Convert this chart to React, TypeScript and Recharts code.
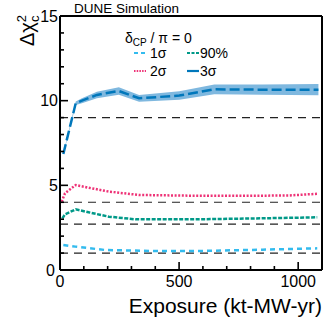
import React from "react";
import {
  ComposedChart,
  Line,
  Area,
  XAxis,
  YAxis,
  ReferenceLine,
} from "recharts";

// Exposure (kt-MW-yr) and Δχ² values, per curve
const sig1X = [14, 64, 190, 402, 579, 850, 1080];
const sig1Y = [1.48, 1.38, 1.18, 1.12, 1.12, 1.2, 1.28];

const sig2X = [7, 21, 66, 120, 205, 332, 544, 750, 960, 1080];
const sig2Y = [4.03, 4.53, 5.02, 4.86, 4.63, 4.43, 4.39, 4.38, 4.4, 4.5];

const cl90X = [10, 21, 66, 120, 205, 318, 542, 750, 960, 1080];
const cl90Y = [3.05, 3.29, 3.58, 3.41, 3.15, 2.99, 2.99, 3.03, 3.08, 3.11];

const sig3X = [14, 66, 92, 155, 247, 332, 501, 648, 850, 1085];
const sig3Y = [6.85, 9.85, 10.0, 10.34, 10.57, 10.14, 10.3, 10.67, 10.65, 10.65];
const sig3Lo = [6.8, 9.75, 9.85, 10.15, 10.35, 9.94, 10.05, 10.38, 10.35, 10.32];
const sig3Hi = [6.9, 9.95, 10.15, 10.53, 10.79, 10.34, 10.55, 10.96, 10.95, 10.98];

// Horizontal thresholds
const thresholds = [1, 2.71, 4, 9];

const xTicks = [0, 100, 200, 300, 400, 500, 600, 700, 800, 900, 1000, 1100];
const yTicks = [0, 1, 2, 3, 4, 5, 6, 7, 8, 9, 10, 11, 12, 13, 14, 15];

const C1 = "#33bbee";
const C2 = "#ee3377";
const C90 = "#009988";
const C3 = "#0077bb";
const BAND = "#7fb8df";
const FONT = "'Liberation Sans', Arial, sans-serif";

const toPts = (xs: number[], ys: number[]) => xs.map((x, i) => ({ x, y: ys[i] }));
const band = sig3X.map((x, i) => ({ x, band: [sig3Lo[i], sig3Hi[i]] }));

const BottomTick = (p: any) => {
  const { x, y, payload } = p;
  const major = payload.value % 500 === 0;
  return (
    <g>
      <line x1={x} x2={x} y1={y} y2={y - (major ? 8 : 4)} stroke="#000" strokeWidth={1.6} />
      {major && payload.value <= 1000 && (
        <text x={x} y={y + 17} textAnchor="middle" fontSize={16} fontFamily={FONT} fill="#000">
          {payload.value}
        </text>
      )}
    </g>
  );
};

const TopTick = (p: any) => {
  const { x, y, payload } = p;
  const major = payload.value % 500 === 0;
  return <line x1={x} x2={x} y1={y} y2={y + (major ? 8 : 4)} stroke="#000" strokeWidth={1.6} />;
};

const LeftTick = (p: any) => {
  const { x, y, payload } = p;
  const major = payload.value % 5 === 0;
  return (
    <g>
      <line x1={x} x2={x + (major ? 8 : 4)} y1={y} y2={y} stroke="#000" strokeWidth={1.6} />
      {major && (
        <text
          x={payload.value === 0 ? x - 5 : x - 2}
          y={y}
          dy="0.36em"
          textAnchor="end"
          fontSize={16}
          fontFamily={FONT}
          fill="#000"
        >
          {payload.value}
        </text>
      )}
    </g>
  );
};

const RightTick = (p: any) => {
  const { x, y, payload } = p;
  const major = payload.value % 5 === 0;
  return <line x1={x} x2={x - (major ? 8 : 4)} y1={y} y2={y} stroke="#000" strokeWidth={1.6} />;
};

const axisLine = { stroke: "#000", strokeWidth: 2 };

export default function App() {
  return (
    <div style={{ position: "fixed", left: 0, top: 0, width: 332, height: 322, background: "#fff" }}>
      <ComposedChart width={332} height={322} margin={{ top: 15, right: 9, bottom: 51, left: 59 }}>
        <XAxis
          xAxisId="b"
          dataKey="x"
          type="number"
          domain={[0, 1100]}
          ticks={xTicks}
          interval={0}
          height={1}
          tickSize={0}
          tickMargin={0}
          tickLine={false}
          axisLine={axisLine}
          tick={BottomTick}
          allowDataOverflow
        />
        <XAxis
          xAxisId="t"
          orientation="top"
          dataKey="x"
          type="number"
          domain={[0, 1100]}
          ticks={xTicks}
          interval={0}
          height={1}
          tickSize={0}
          tickMargin={0}
          tickLine={false}
          axisLine={axisLine}
          tick={TopTick}
        />
        <YAxis
          yAxisId="l"
          type="number"
          domain={[0, 15]}
          ticks={yTicks}
          interval={0}
          width={1}
          tickSize={0}
          tickMargin={0}
          tickLine={false}
          axisLine={axisLine}
          tick={LeftTick}
          allowDataOverflow
        />
        <YAxis
          yAxisId="r"
          orientation="right"
          type="number"
          domain={[0, 15]}
          ticks={yTicks}
          interval={0}
          width={1}
          tickSize={0}
          tickMargin={0}
          tickLine={false}
          axisLine={axisLine}
          tick={RightTick}
        />
        {thresholds.map((t) => (
          <ReferenceLine
            key={t}
            xAxisId="b"
            yAxisId="l"
            y={t}
            stroke="#222"
            strokeWidth={1.2}
            strokeDasharray="8 6"
          />
        ))}
        <Area
          xAxisId="b"
          yAxisId="l"
          data={band}
          dataKey="band"
          type="linear"
          fill={BAND}
          fillOpacity={1}
          stroke="none"
          isAnimationActive={false}
        />
        <Line
          xAxisId="b"
          yAxisId="l"
          data={toPts(sig1X, sig1Y)}
          dataKey="y"
          type="linear"
          stroke={C1}
          strokeWidth={2.5}
          strokeDasharray="5 4"
          dot={false}
          isAnimationActive={false}
        />
        <Line
          xAxisId="b"
          yAxisId="l"
          data={toPts(sig2X, sig2Y)}
          dataKey="y"
          type="linear"
          stroke={C2}
          strokeWidth={2.5}
          strokeDasharray="2 1.6"
          dot={false}
          isAnimationActive={false}
        />
        <Line
          xAxisId="b"
          yAxisId="l"
          data={toPts(cl90X, cl90Y)}
          dataKey="y"
          type="linear"
          stroke={C90}
          strokeWidth={2.5}
          strokeDasharray="4 1.5"
          dot={false}
          isAnimationActive={false}
        />
        <Line
          xAxisId="b"
          yAxisId="l"
          data={toPts(sig3X, sig3Y)}
          dataKey="y"
          type="linear"
          stroke={C3}
          strokeWidth={2.5}
          strokeDasharray="10 4"
          dot={false}
          isAnimationActive={false}
        />
      </ComposedChart>
      <svg
        width={332}
        height={322}
        style={{ position: "absolute", left: 0, top: 0, pointerEvents: "none" }}
        fontFamily={FONT}
      >
        <text x={74} y={12.5} fontSize={13.5} fill="#000">
          DUNE Simulation
        </text>
        <text transform="translate(34,15) rotate(-90)" textAnchor="end" fontSize={20} fill="#000">
          Δχ
          <tspan fontSize={13} dy={-8}>2</tspan>
          <tspan fontSize={13} dx={-7} dy={13}>c</tspan>
        </text>
        <text x={322} y={313} textAnchor="end" fontSize={21} fill="#000">
          Exposure (kt-MW-yr)
        </text>
        <text x={125} y={43} fontSize={14} fill="#000">
          δ<tspan fontSize={10} dy={3}>CP</tspan>
          <tspan dy={-3}> / π = 0</tspan>
        </text>
        <line x1={134} x2={146} y1={53} y2={53} stroke={C1} strokeWidth={2.2} strokeDasharray="4 3" />
        <text x={150} y={58} fontSize={14} fill="#000">1σ</text>
        <line x1={187} x2={199} y1={53} y2={53} stroke={C90} strokeWidth={2.2} strokeDasharray="3 1.5" />
        <text x={200} y={58} fontSize={14} fill="#000">90%</text>
        <line x1={134} x2={146} y1={71} y2={71} stroke={C2} strokeWidth={2.2} strokeDasharray="1.5 1.2" />
        <text x={150} y={76} fontSize={14} fill="#000">2σ</text>
        <line x1={187} x2={199} y1={71} y2={71} stroke={C3} strokeWidth={2.2} />
        <text x={200} y={76} fontSize={14} fill="#000">3σ</text>
      </svg>
    </div>
  );
}
